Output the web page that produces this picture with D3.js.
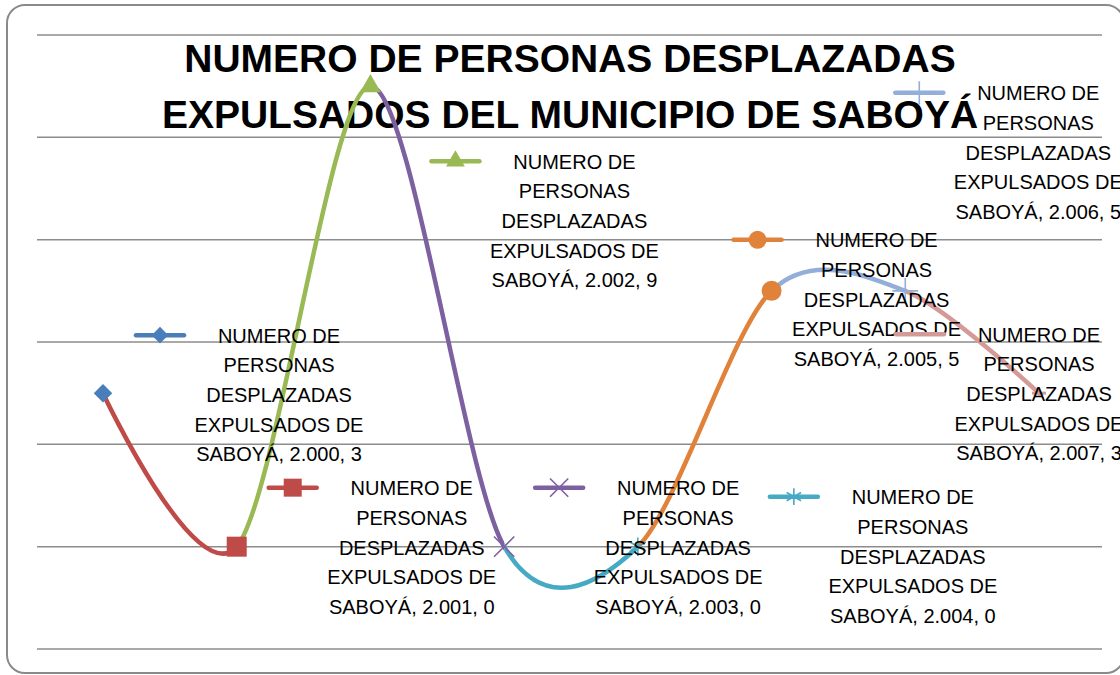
<!DOCTYPE html>
<html><head><meta charset="utf-8">
<script src="https://cdn.jsdelivr.net/npm/d3@7"></script>
<style>html,body{margin:0;padding:0;background:#fff;overflow:hidden}</style>
</head><body>
<svg id="c" width="1120" height="675"></svg>
<script>
// ---- data ----
const years = [2000, 2001, 2002, 2003, 2004, 2005, 2006, 2007];
const yearLabels = ["2.000", "2.001", "2.002", "2.003", "2.004", "2.005", "2.006", "2.007"];
const values = [3, 0, 9, 0, 0, 5, 5, 3];
const yTicks = [-2, 0, 2, 4, 6, 8, 10];
const seriesName = ["NUMERO DE", "PERSONAS", "DESPLAZADAS", "EXPULSADOS DE"];
const titleLines = ["NUMERO DE PERSONAS DESPLAZADAS", "EXPULSADOS DEL MUNICIPIO DE SABOYÁ"];

// ---- styles / layout ----
const colors = ["#4A7EBB", "#BE4B48", "#98B954", "#7D60A0", "#46AAC5", "#E0823A", "#93AED8", "#D49A98"];
const markerTypes = ["diamond", "square", "triangle", "times", "asterisk", "circle", "plus", "dash"];
// label key offsets relative to the data point (pixels)
const keyOffsets = [[57,-58],[56,-59],[85,75],[55,-59],[156,-50],[-14,-51],[14,-198],[-119,-59]];

const svg = d3.select("#c");
const x = d3.scaleLinear().domain([2000, 2007]).range([103, 1039]);
const y = d3.scaleLinear().domain([-2, 10]).range([649, 35]);

// border
svg.append("rect").attr("x", 7).attr("y", 5).attr("width", 1117).attr("height", 668)
  .attr("rx", 18).attr("fill", "#fff").attr("stroke", "#8a8a8a").attr("stroke-width", 2);

// gridlines
svg.append("g").selectAll("line").data(yTicks).join("line")
  .attr("x1", 37).attr("x2", 1102)
  .attr("y1", d => y(d)).attr("y2", d => y(d))
  .attr("stroke", "#8c8c8c").attr("stroke-width", 1.5);

// title
svg.append("g").selectAll("text").data(titleLines).join("text")
  .attr("x", 570).attr("y", (d, i) => 72 + i * 56)
  .attr("text-anchor", "middle")
  .attr("font-family", "Liberation Sans, Arial, sans-serif")
  .attr("font-weight", "bold").attr("font-size", 39).attr("fill", "#000")
  .text(d => d);

// smooth line split into coloured segments
const pts = years.map((yr, i) => [x(yr), y(values[i])]);
const line = d3.line().curve(d3.curveCardinal.tension(0.1));
const defs = svg.append("defs");
for (let i = 1; i < years.length; i++) {
  const x0 = x(years[i - 1]), x1 = x(years[i]);
  defs.append("clipPath").attr("id", "seg" + i)
    .append("rect").attr("x", x0).attr("y", 0)
    .attr("width", x1 - x0 + (i === years.length - 1 ? 4 : 0)).attr("height", 675);
}
const gl = svg.append("g");
for (let i = 1; i < years.length; i++) {
  gl.append("path").attr("d", line(pts))
    .attr("fill", "none").attr("stroke", colors[i]).attr("stroke-width", 4.5)
    .attr("stroke-linecap", "round")
    .attr("clip-path", "url(#seg" + i + ")");
}

function drawMarker(g, type, color, cx, cy, s) {
  const sym = d3.symbol();
  if (type === "diamond") {
    g.append("path").attr("d", sym.type(d3.symbolSquare).size(170 * s * s)())
      .attr("transform", `translate(${cx},${cy}) rotate(45)`).attr("fill", color);
  } else if (type === "square") {
    g.append("path").attr("d", sym.type(d3.symbolSquare).size(400 * s * s)())
      .attr("transform", `translate(${cx},${cy})`).attr("fill", color);
  } else if (type === "triangle") {
    g.append("path").attr("d", sym.type(d3.symbolTriangle).size(190 * s * s)())
      .attr("transform", `translate(${cx},${cy})`).attr("fill", color);
  } else if (type === "circle") {
    g.append("path").attr("d", sym.type(d3.symbolCircle).size(314 * s * s)())
      .attr("transform", `translate(${cx},${cy})`).attr("fill", color);
  } else if (type === "times") {
    g.append("path").attr("d", sym.type(d3.symbolTimes).size(270 * s * s)())
      .attr("transform", `translate(${cx},${cy})`).attr("fill", "none")
      .attr("stroke", color).attr("stroke-width", 1.6);
  } else if (type === "asterisk") {
    g.append("path").attr("d", sym.type(d3.symbolAsterisk).size(240 * s * s)())
      .attr("transform", `translate(${cx},${cy})`).attr("fill", "none")
      .attr("stroke", color).attr("stroke-width", 1.6);
  } else if (type === "plus") {
    g.append("path").attr("d", sym.type(d3.symbolPlus).size(220 * s * s)())
      .attr("transform", `translate(${cx},${cy})`).attr("fill", "none")
      .attr("stroke", color).attr("stroke-width", 1.6);
  } else if (type === "dash") {
    g.append("line").attr("x1", cx - 7 * s).attr("x2", cx + 7 * s)
      .attr("y1", cy).attr("y2", cy).attr("stroke", color).attr("stroke-width", 3);
  }
}

// point markers
const gm = svg.append("g");
years.forEach((yr, i) => drawMarker(gm, markerTypes[i], colors[i], x(yr), y(values[i]), 1));

// data labels with legend keys
const glab = svg.append("g");
years.forEach((yr, i) => {
  const kx = x(yr) + keyOffsets[i][0], ky = y(values[i]) + keyOffsets[i][1];
  glab.append("line").attr("x1", kx - 24).attr("x2", kx + 24).attr("y1", ky).attr("y2", ky)
    .attr("stroke", colors[i]).attr("stroke-width", 4.5).attr("stroke-linecap", "round");
  drawMarker(glab, markerTypes[i], colors[i], kx, ky, 0.9);
  const lines = seriesName.concat([`SABOYÁ, ${yearLabels[i]}, ${values[i]}`]);
  glab.append("g").selectAll("text").data(lines).join("text")
    .attr("x", kx + 119).attr("y", (d, j) => ky + 7.5 + j * 29.7)
    .attr("text-anchor", "middle")
    .attr("font-family", "Liberation Sans, Arial, sans-serif")
    .attr("font-size", 20).attr("fill", "#000")
    .text(d => d);
});
</script>
</body></html>
